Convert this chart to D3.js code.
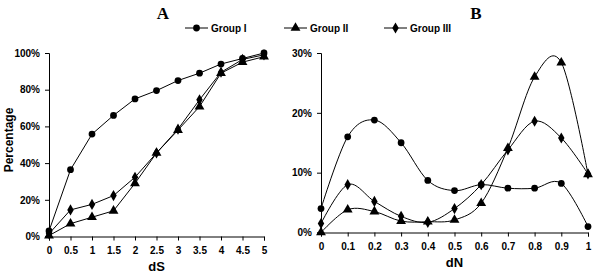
<!DOCTYPE html>
<html>
<head>
<meta charset="utf-8">
<script src="https://cdn.jsdelivr.net/npm/d3@7"></script>
<style>
  body { margin: 0; background: #fff; }
  svg text { font-family: "Liberation Sans", Arial, sans-serif; font-weight: bold; fill: #000; }
</style>
</head>
<body>
<svg id="chart" width="600" height="278"></svg>
<script>
// panel A: cumulative percentage by dS
let dsValues = [0, 0.5, 1, 1.5, 2, 2.5, 3, 3.5, 4, 4.5, 5];
let dsTicks = ['0', '0.5', '1', '1.5', '2', '2.5', '3', '3.5', '4', '4.5', '5'];
let aGroup1 = [3, 36.4, 55.8, 66, 75, 79.5, 85, 89, 94, 97, 100];
let aGroup2 = [0.5, 7, 10.5, 14, 29, 45.5, 58, 70.8, 89, 95, 98];
let aGroup3 = [1.5, 14.5, 17.5, 22.3, 32.3, 45.5, 58.5, 74.5, 89.5, 96.5, 99];
let aYTicks = [0, 20, 40, 60, 80, 100];

// panel B: percentage by dN
let dnValues = [0, 0.1, 0.2, 0.3, 0.4, 0.5, 0.6, 0.7, 0.8, 0.9, 1];
let dnTicks = ['0', '0.1', '0.2', '0.3', '0.4', '0.5', '0.6', '0.7', '0.8', '0.9', '1'];
let bGroup1 = [4, 16, 18.8, 15, 8.7, 7, 8, 7.4, 7.4, 8.2, 1];
let bGroup2 = [0, 3.8, 3.5, 1.9, 1.8, 2.1, 4.9, 14.1, 26, 28.4, 9.7];
let bGroup3 = [1.5, 8, 5.2, 2.7, 1.7, 4, 8, 13.8, 18.6, 15.8, 9.8];
let bYTicks = [0, 10, 20, 30];

let groupNames = ['Group I', 'Group II', 'Group III'];
let markers = [d3.symbolCircle, d3.symbolTriangle, d3.symbolDiamond];
let markerSizes = [36, 42, 36];

let svg = d3.select('#chart');

function drawPanel(opt){
    let x = d3.scaleLinear().domain(opt.xDomain).range(opt.xRange);
    let y = d3.scaleLinear().domain(opt.yDomain).range(opt.yRange);

    // y axis
    let yAxis = svg.append('g')
        .attr('transform', 'translate(' + opt.xRange[0] + ',0)')
        .call(d3.axisLeft(y).tickValues(opt.yTicks).tickSize(4).tickPadding(5)
            .tickFormat(d => d + '%'));
    yAxis.select('.domain').attr('stroke', '#000').attr('stroke-width', 1);
    yAxis.selectAll('text').style('font-size', '10px');

    // x axis
    let xAxis = svg.append('g')
        .attr('transform', 'translate(0,' + opt.yRange[0] + ')')
        .call(d3.axisBottom(x).tickValues(opt.xValues).tickSize(4).tickPadding(6)
            .tickFormat((d, i) => opt.xTicks[i]));
    xAxis.select('.domain').attr('stroke', '#000').attr('stroke-width', 1);
    xAxis.selectAll('text').style('font-size', '10px');

    // axis title
    svg.append('text')
        .attr('x', (opt.xRange[0] + opt.xRange[1]) / 2)
        .attr('y', opt.yRange[0] + 34)
        .attr('text-anchor', 'middle')
        .style('font-size', '13px')
        .text(opt.xLabel);

    // panel title
    svg.append('text')
        .attr('x', opt.titleX)
        .attr('y', 19)
        .attr('text-anchor', 'middle')
        .style('font-family', '"Liberation Serif", "Times New Roman", serif')
        .style('font-size', '17px')
        .text(opt.title);

    let line = d3.line()
        .x((d, i) => x(opt.xValues[i]))
        .y(d => y(d))
        .curve(opt.curve);

    opt.series.forEach((s, k) => {
        svg.append('path')
            .attr('d', line(s))
            .attr('fill', 'none')
            .attr('stroke', '#000')
            .attr('stroke-width', 1);

        svg.selectAll('.m' + opt.title + k)
            .data(s)
            .enter()
            .append('path')
            .attr('d', d3.symbol().type(markers[k]).size(markerSizes[k]))
            .attr('transform', (d, i) => 'translate(' + x(opt.xValues[i]) + ',' + y(d) + ')')
            .attr('fill', '#000');
    });
}

drawPanel({
    title: 'A', titleX: 163,
    xDomain: [0, 5], xRange: [49, 264],
    yDomain: [0, 100], yRange: [236.5, 53],
    xValues: dsValues, xTicks: dsTicks, yTicks: aYTicks,
    xLabel: 'dS',
    series: [aGroup1, aGroup2, aGroup3],
    curve: d3.curveLinear
});

drawPanel({
    title: 'B', titleX: 476,
    xDomain: [0, 1], xRange: [321, 588],
    yDomain: [0, 30], yRange: [232.5, 53],
    xValues: dnValues, xTicks: dnTicks, yTicks: bYTicks,
    xLabel: 'dN',
    series: [bGroup1, bGroup2, bGroup3],
    curve: d3.curveCardinal.tension(0)
});

// y title for panel A
svg.append('text')
    .attr('transform', 'translate(13,140) rotate(-90)')
    .attr('text-anchor', 'middle')
    .style('font-size', '12px')
    .text('Percentage');

// legend
let legendX = [185, 284, 384];
groupNames.forEach((name, k) => {
    let g = svg.append('g').attr('transform', 'translate(' + legendX[k] + ',28)');
    g.append('line').attr('x1', 0).attr('x2', 23).attr('y1', 0).attr('y2', 0)
        .attr('stroke', '#000').attr('stroke-width', 1);
    g.append('path')
        .attr('d', d3.symbol().type(markers[k]).size(markerSizes[k]))
        .attr('transform', 'translate(11.5,0)')
        .attr('fill', '#000');
    g.append('text').attr('x', 26).attr('y', 4)
        .style('font-size', '10px')
        .text(name);
});
</script>
</body>
</html>
